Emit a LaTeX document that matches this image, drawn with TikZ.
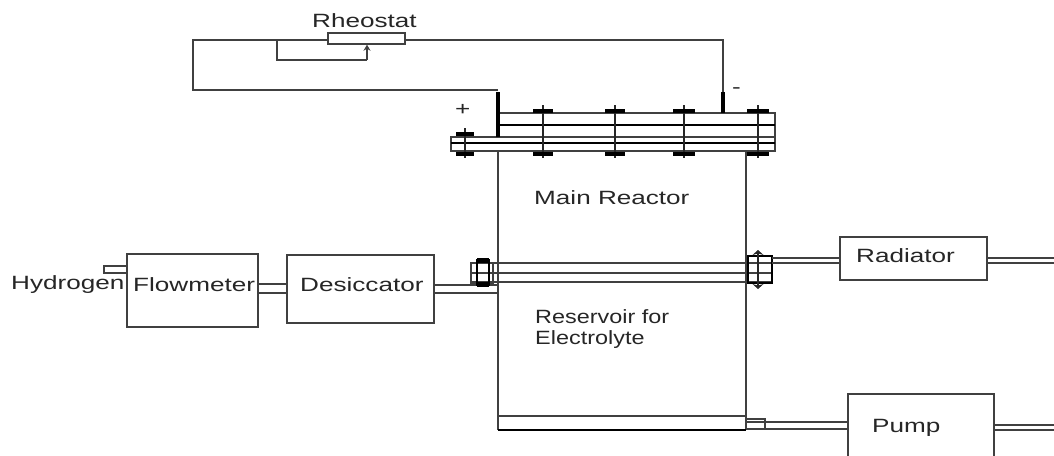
\documentclass[tikz,border=0pt]{standalone}
\usepackage{graphicx}
\usepackage{fontspec}
\setmainfont{Liberation Sans}
\usetikzlibrary{arrows.meta}
\newcommand{\widetxt}[1]{\scalebox{1.36}[1]{#1}}
\newcommand{\midtxt}[1]{\scalebox{1.22}[1]{#1}}
\tikzset{
  wire/.style={draw=black!75,line width=1.4pt},
  box/.style={draw=black!75,line width=1.4pt,fill=white,minimum width=0pt,inner sep=0pt},
  heavy/.style={draw=black,line width=4.2pt},
  boltcap/.style={draw=black,line width=4.4pt},
  bolt/.style={draw=black!85,line width=1.6pt},
  lbl/.style={text=black!85,font=\fontsize{19.2}{22}\selectfont,inner sep=0pt,anchor=west}
}
\begin{document}
\begin{tikzpicture}[x=1pt,y=-1pt]
\useasboundingbox (0,0) rectangle (1054,455);
% junction coordinates
\coordinate (wl) at (193,40);
\coordinate (wb) at (193,90);
\coordinate (ep) at (498,90);
\coordinate (em) at (723,40);
\coordinate (br) at (277,40);
\coordinate (brb) at (277,60);
\coordinate (wpb) at (367,60);
% reactor body
\draw[wire] (498,151) -- (498,430) (746,151) -- (746,430);
\draw[wire] (498,416) -- (746,416);
\draw[draw=black,line width=2pt] (498,430) -- (746,430);
% tube
\draw[wire] (471,263) -- (772,263) (471,273) -- (772,273) (471,282) -- (772,282);
% rheostat
\node[box,minimum width=77pt,minimum height=11pt] (rh) at (366.5,38.5) {};
\node[lbl] (rhl) at (312,21) {\widetxt{Rheostat}};
\draw[wire] (ep) -- (wb) -- (wl) -- (rh.west |- wl);
\draw[wire] (rh.east |- em) -- (em) -- (723,92);
\draw[wire] (br) -- (brb) -- (wpb);
\draw[wire,-{Stealth[length=6pt,width=7pt]}] (wpb) -- (rh.south -| wpb);
% flanges
\draw[wire] (498,113) -- (775,113) -- (775,151) -- (451,151) -- (451,137) -- (775,137);
\draw[draw=black,line width=2.2pt] (498,125) -- (775,125) (451,143) -- (775,143);
\draw[heavy] (498,92) -- (498,137);
\draw[heavy] (723,92) -- (723,113);
% bolts
\foreach \bx/\tw/\bw in {543/20/20,615/20/20,684/22/22,758/22/22}{
  \draw[bolt] (\bx,105) -- (\bx,158);
  \draw[boltcap] (\bx-\tw/2,111) -- (\bx+\tw/2,111);
  \draw[boltcap] (\bx-\bw/2,154) -- (\bx+\bw/2,154);
}
\draw[bolt] (465,128) -- (465,158);
\draw[boltcap] (456,134) -- (474,134) (456,154) -- (474,154);
\node[lbl] (pl) at (455,110) {\widetxt{+}};
\node[lbl] (mi) at (732,91) {\widetxt{-}};
% labels in the vessel
\node[lbl] (mr) at (534,198) {\widetxt{Main Reactor}};
\node[lbl] (re1) at (535,317) {\midtxt{Reservoir for}};
\node[lbl] (re2) at (535,340) {\midtxt{Electrolyte}};
% left branch
\node[box,minimum width=131pt,minimum height=73pt] (fm) at (192.5,290.5) {};
\node[box,minimum width=147pt,minimum height=68pt] (de) at (360.5,289) {};
\node[lbl] (hy) at (11,285) {\widetxt{Hydrogen}};
\node[lbl] (fml) at (133,285) {\widetxt{Flowmeter}};
\node[lbl] (del) at (300,285) {\widetxt{Desiccator}};
\draw[wire] (104,266) rectangle (127,273);
\draw[wire] (fm.east |- 0,284) -- (de.west |- 0,284) (fm.east |- 0,293) -- (de.west |- 0,293);
\draw[wire] (de.east |- 0,285) -- (498,285) (de.east |- 0,293) -- (498,293);
% tube fittings
\draw[wire] (471,263) rectangle (493,283);
\draw[draw=black,line width=1.6pt] (477,260) rectangle (489,285);
\draw[boltcap] (477,260.5) -- (489,260.5) (477,284.5) -- (489,284.5);
\draw[draw=black,line width=1.8pt] (748,256) rectangle (772,283);
\draw[bolt,{Stealth[length=5pt,width=11pt]}-{Stealth[length=5pt,width=11pt]}] (758,250) -- (758,289);
% right branch
\node[box,minimum width=147pt,minimum height=43pt] (ra) at (913.5,258.5) {};
\node[lbl] (ral) at (856,256) {\widetxt{Radiator}};
\draw[wire] (772,258) -- (ra.west |- 0,258) (772,263) -- (ra.west |- 0,263);
\draw[wire] (ra.east |- 0,258) -- (1054,258) (ra.east |- 0,263) -- (1054,263);
\node[box,minimum width=146pt,minimum height=70pt] (pu) at (921,429) {};
\node[lbl] (pul) at (872,428) {\widetxt{Pump}};
\draw[wire] (746,422) -- (pu.west |- 0,422) (746,429) -- (pu.west |- 0,429);
\draw[wire] (pu.east |- 0,425) -- (1054,425) (pu.east |- 0,430) -- (1054,430);
\draw[wire] (746,419) -- (765,419) -- (765,429);
\end{tikzpicture}
\end{document}
